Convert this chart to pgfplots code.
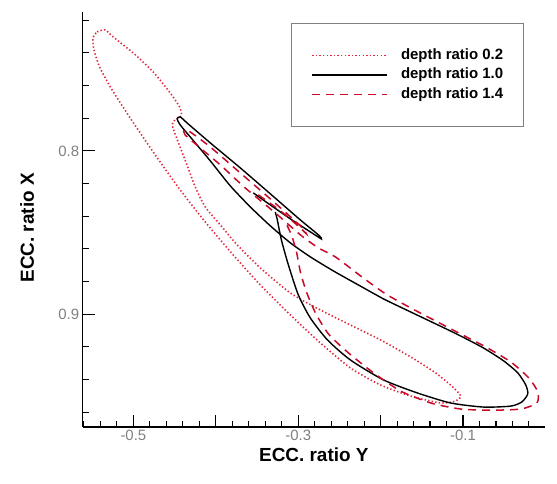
\documentclass[border=0pt]{standalone}
\usepackage{pgfplots}
\pgfplotsset{compat=1.18}
\usepackage{fontspec}
\setmainfont{Liberation Sans}
\definecolor{dotred}{RGB}{225,40,60}
\definecolor{dashred}{RGB}{200,10,40}
\begin{document}
\begin{tikzpicture}
\path[use as bounding box] (-82.7bp,-57bp) rectangle (474.3bp,427bp);
\begin{axis}[
  at={(0,0)}, anchor=south west,
  scale only axis, width=462.3bp, height=415bp,
  xmin=-0.5615, xmax=-0.0005, ymin=0.715, ymax=0.969, y dir=reverse,
  axis x line=bottom, axis y line=left,
  axis line style={-, line width=1.4bp, black},
  tick align=inside,
  major tick length=12bp, minor tick length=6bp,
  every tick/.style={black, line width=1.1bp},
  xtick={-0.5,-0.4,-0.3,-0.2,-0.1},
  xticklabels={-0.5,,-0.3,,-0.1},
  minor xtick={-0.56,-0.54,-0.52,-0.48,-0.46,-0.44,-0.42,-0.38,-0.36,-0.34,-0.32,-0.28,-0.26,-0.24,-0.22,-0.18,-0.16,-0.14,-0.12,-0.08,-0.06,-0.04,-0.02},
  ytick={0.8,0.9},
  yticklabels={0.8,0.9},
  minor ytick={0.72,0.74,0.76,0.78,0.82,0.84,0.86,0.88,0.92,0.94,0.96},
  /pgf/number format/assume math mode=true,
  tick label style={font=\fontsize{15}{18}\selectfont, text=gray},
  xlabel={ECC. ratio Y},
  ylabel={ECC. ratio X},
  xlabel style={font=\bfseries\fontsize{19}{22}\selectfont, at={(axis description cs:0.5,-0.0675)}, anchor=center},
  ylabel style={font=\bfseries\fontsize{19}{22}\selectfont, at={(axis description cs:-0.12,0.48)}, anchor=center},
  legend style={at={(axis description cs:0.4506,0.9735)}, anchor=north west, draw=gray, line width=0.8bp,
    inner xsep=20bp, inner ysep=25bp, font=\bfseries\fontsize{15}{18}\selectfont, row sep=5.5bp,
    nodes={inner sep=0pt, text height=11bp, text depth=3bp},
    /tikz/every odd column/.append style={column sep=13bp}},
  legend cell align=left,
  legend image code/.code={\draw[#1] (0bp,0bp) -- (75bp,0bp);},
]
\addplot[dotred, line width=1.6bp, dash pattern=on 1.4bp off 2.2bp, smooth, tension=0.4] coordinates {
(-0.5441,0.7271) (-0.5344,0.7259) (-0.5247,0.7302) (-0.5004,0.7400) (-0.4761,0.7516) (-0.4554,0.7645)
(-0.4432,0.7737) (-0.4420,0.7786) (-0.4493,0.7810) (-0.4530,0.7841) (-0.4457,0.7945) (-0.4359,0.8073)
(-0.4250,0.8220) (-0.4128,0.8343) (-0.3945,0.8453) (-0.3739,0.8576) (-0.3459,0.8716) (-0.3095,0.8870)
(-0.2730,0.8974) (-0.2365,0.9066) (-0.2001,0.9157) (-0.1636,0.9261) (-0.1332,0.9359) (-0.1125,0.9445)
(-0.1027,0.9500) (-0.1089,0.9531) (-0.1272,0.9543) (-0.1636,0.9500) (-0.2001,0.9433) (-0.2365,0.9329)
(-0.2730,0.9176) (-0.3095,0.9004) (-0.3459,0.8821) (-0.3788,0.8637) (-0.4128,0.8435) (-0.4432,0.8239)
(-0.4736,0.8024) (-0.5040,0.7798) (-0.5259,0.7626) (-0.5405,0.7492) (-0.5478,0.7382) (-0.5490,0.7308)
(-0.5441,0.7271)
};
\addlegendentry{depth ratio 0.2}
\addplot[black, line width=1.4bp, smooth, tension=0.4] coordinates {
(-0.3545,0.8257) (-0.3338,0.8331) (-0.3095,0.8416) (-0.2852,0.8496) (-0.2718,0.8539) (-0.2755,0.8514)
(-0.2973,0.8423) (-0.3338,0.8263) (-0.3703,0.8104) (-0.4067,0.7951) (-0.4335,0.7835) (-0.4432,0.7792)
(-0.4469,0.7804) (-0.4432,0.7841) (-0.4311,0.7914) (-0.4067,0.8061) (-0.3824,0.8214) (-0.3581,0.8343)
(-0.3338,0.8459) (-0.3095,0.8563) (-0.2852,0.8649) (-0.2572,0.8735) (-0.2268,0.8821) (-0.1964,0.8906)
(-0.1660,0.8980) (-0.1356,0.9053) (-0.1052,0.9127) (-0.0749,0.9207) (-0.0505,0.9286) (-0.0335,0.9359)
(-0.0238,0.9433) (-0.0214,0.9488) (-0.0287,0.9537) (-0.0420,0.9562) (-0.0749,0.9568) (-0.1150,0.9543)
(-0.1551,0.9482) (-0.1964,0.9402) (-0.2366,0.9280) (-0.2645,0.9157) (-0.2852,0.9023) (-0.2998,0.8882)
(-0.3119,0.8698) (-0.3204,0.8545) (-0.3253,0.8423) (-0.3278,0.8374)
};
\addlegendentry{depth ratio 1.0}
\addplot[dashred, line width=1.5bp, dash pattern=on 8bp off 6bp, smooth, tension=0.4] coordinates {
(-0.3484,0.8269) (-0.3216,0.8367) (-0.2973,0.8472) (-0.2900,0.8508) (-0.2973,0.8459) (-0.3338,0.8294)
(-0.3703,0.8135) (-0.4067,0.7976) (-0.4311,0.7884) (-0.4384,0.7871) (-0.4372,0.7902) (-0.4189,0.7982)
(-0.3945,0.8086) (-0.3642,0.8227) (-0.3277,0.8380) (-0.2973,0.8514) (-0.2755,0.8594) (-0.2548,0.8649)
(-0.2244,0.8765) (-0.1940,0.8875) (-0.1636,0.8961) (-0.1332,0.9041) (-0.1027,0.9121) (-0.0724,0.9200)
(-0.0420,0.9292) (-0.0201,0.9390) (-0.0092,0.9476) (-0.0104,0.9543) (-0.0299,0.9580) (-0.0663,0.9587)
(-0.1027,0.9580) (-0.1392,0.9543) (-0.1757,0.9470) (-0.2085,0.9359) (-0.2389,0.9237) (-0.2632,0.9121)
(-0.2790,0.8992) (-0.2900,0.8863) (-0.2973,0.8741) (-0.3021,0.8618) (-0.3082,0.8514) (-0.3168,0.8423)
};
\addlegendentry{depth ratio 1.4}
\end{axis}
\end{tikzpicture}
\end{document}
